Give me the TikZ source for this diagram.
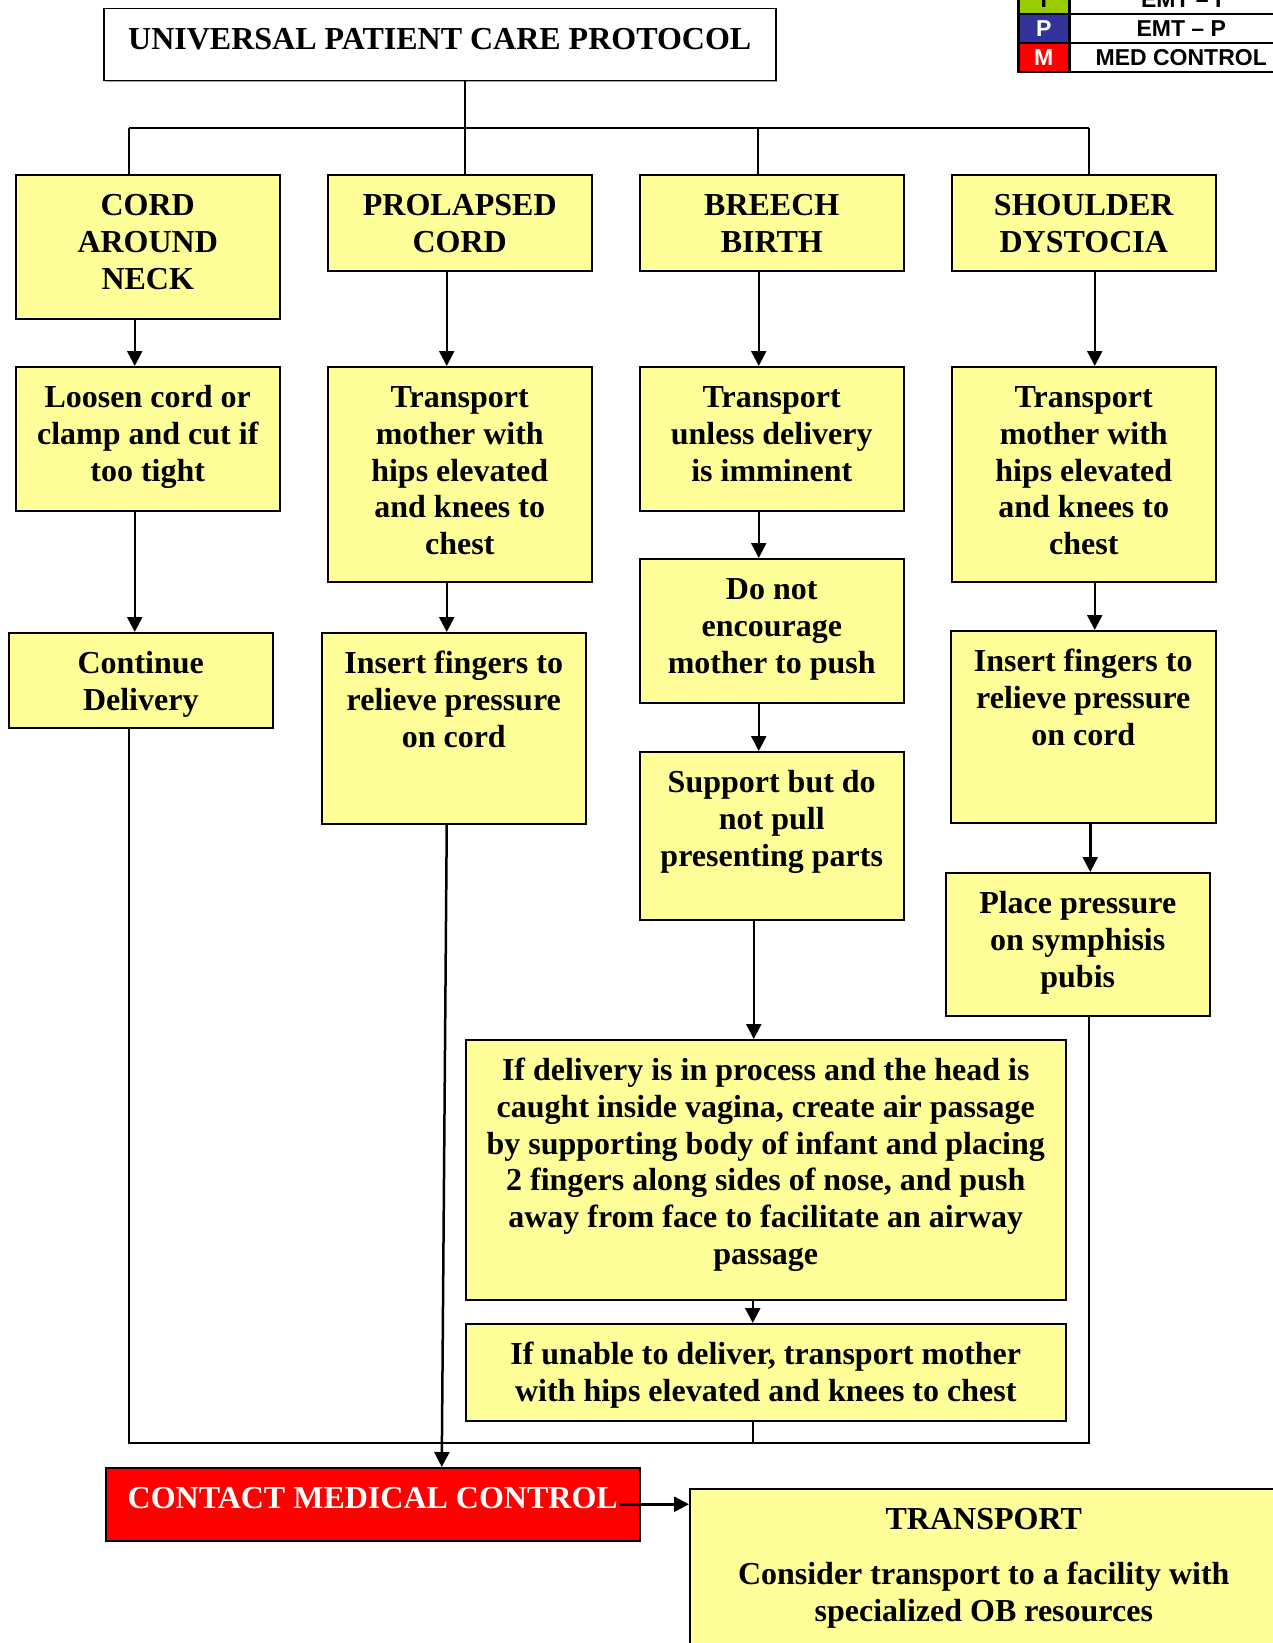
\documentclass[tikz,border=0pt]{standalone}
\usepackage{fontspec}
\setmainfont{Liberation Serif}
\newfontfamily\legendfont{Liberation Sans}
\usetikzlibrary{arrows.meta,shadows}
\definecolor{cellyellow}{HTML}{FFFF99}
\definecolor{mcred}{HTML}{FF0000}
\definecolor{emtgreen}{HTML}{99CC00}
\definecolor{emtblue}{HTML}{333399}
% box text: width, height, lines (first baseline 41pt below the top)
\newcommand{\cell}[3]{\parbox[t][#2pt][t]{#1pt}{\centering\rule{0pt}{41pt}#3}}

\begin{document}
\begin{tikzpicture}[x=1pt,y=-1pt,
    box/.style={draw, line width=1.5pt, fill=cellyellow, inner sep=0pt, anchor=north west,
      drop shadow={shadow xshift=1.5pt, shadow yshift=-1.5pt, fill=gray, opacity=0.7},
      font=\fontsize{32pt}{36.7pt}\selectfont\bfseries},
    key/.style={draw, line width=2.5pt, inner sep=0pt, anchor=north west, minimum height=29pt,
      font=\legendfont\bfseries\fontsize{23pt}{23pt}\selectfont},
    link/.style={line width=2.5pt},
    arr/.style={line width=2.5pt, -{Triangle[length=15pt,width=15pt]}}]
\useasboundingbox (0,0) rectangle (1273,1643);

% legend
\foreach \k/\t/\c/\f/\y in {I/EMT \textendash{} I/emtgreen/black/-16,
    P/EMT \textendash{} P/emtblue/white/13, M/MED CONTROL/mcred/white/42}{
  \node[key, fill=\c, text=\f, minimum width=51pt] (key\k) at (1017,\y) {\k};
  \node[key, fill=white, minimum width=224pt] (lab\k) at (1068,\y) {\t};
}

\node[box, fill=white] (title) at (103,8) {\cell{672}{72}{UNIVERSAL PATIENT CARE PROTOCOL}};

% first row
\node[box] (cord) at (15,174) {\cell{264}{144}{CORD\\AROUND\\NECK}};
\node[box] (prolapsed) at (327,174) {\cell{264}{96}{PROLAPSED\\CORD}};
\node[box] (breech) at (639,174) {\cell{264}{96}{BREECH\\BIRTH}};
\node[box] (shoulder) at (951,174) {\cell{264}{96}{SHOULDER\\DYSTOCIA}};

\node[box] (loosen) at (15,366) {\cell{264}{144}{Loosen cord or\\clamp and cut if\\too tight}};
\node[box] (transA) at (327,366) {\cell{264}{215}{Transport\\mother with\\hips elevated\\and knees to\\chest}};
\node[box] (unless) at (639,366) {\cell{264}{144}{Transport\\unless delivery\\is imminent}};
\node[box] (transB) at (951,366) {\cell{264}{215}{Transport\\mother with\\hips elevated\\and knees to\\chest}};

\node[box] (delivery) at (8,632) {\cell{264}{95}{Continue\\Delivery}};
\node[box] (insertA) at (321,632) {\cell{264}{191}{Insert fingers to\\relieve pressure\\on cord}};
\node[box] (encourage) at (639,558) {\cell{264}{144}{Do not\\encourage\\mother to push}};
\node[box] (insertB) at (950,630) {\cell{265}{192}{Insert fingers to\\relieve pressure\\on cord}};
\node[box] (support) at (639,751) {\cell{264}{168}{Support but do\\not pull\\presenting parts}};
\node[box] (pubis) at (945,872) {\cell{264}{143}{Place pressure\\on symphisis\\pubis}};

\node[box] (airway) at (465,1039) {\cell{600}{260}{If delivery is in process and the head is\\caught inside vagina, create air passage\\by supporting body of infant and placing\\2 fingers along sides of nose, and push\\away from face to facilitate an airway\\passage}};
\node[box] (unable) at (465,1323) {\cell{600}{97}{If unable to deliver, transport mother\\with hips elevated and knees to chest}};

\node[box, fill=mcred, text=white] (contact) at (105,1467) {\cell{534}{73}{CONTACT MEDICAL CONTROL}};
\node[box] (transport) at (689,1488) {\cell{588}{260}{TRANSPORT\\[18pt]Consider transport to a facility with\\specialized OB resources}};

% top bus
\coordinate (b1) at (129,128);
\coordinate (b2) at (465,128);
\coordinate (b3) at (758,128);
\coordinate (b4) at (1089,128);
\draw[link] (title.south -| b2) -- (b2);
\draw[link] (b1) -- (b4);
\foreach \i/\n in {1/cord,2/prolapsed,3/breech,4/shoulder}
  \draw[link] (b\i) -- (b\i |- \n.north);

\foreach \a/\b/\s in {cord/loosen/-13pt, loosen/delivery/-13pt, prolapsed/transA/-13pt,
    transA/insertA/-13pt, breech/unless/-13pt, unless/encourage/-13pt, encourage/support/-13pt,
    shoulder/transB/11pt, transB/insertB/11pt, insertB/pubis/7pt, support/airway/-18pt,
    airway/unable/-13pt}
  \draw[arr] ([xshift=\s]\a.south) -- ([xshift=\s]\a.south |- \b.north);

% bottom bus
\coordinate (c1) at (129,1443);
\coordinate (c4) at (1089,1443);
\draw[link] (delivery.south -| c1) -- (c1) -- (c4) -- (c4 |- pubis.south);
\draw[link] ([xshift=-13pt]unable.south) -- ([xshift=-13pt]unable.south |- c1);
\draw[arr] ([xshift=-7pt]insertA.south) -- ([xshift=69pt]contact.north);
\draw[arr] ([xshift=-21pt]contact.east) -- (contact.east -| transport.west);
\end{tikzpicture}
\end{document}
